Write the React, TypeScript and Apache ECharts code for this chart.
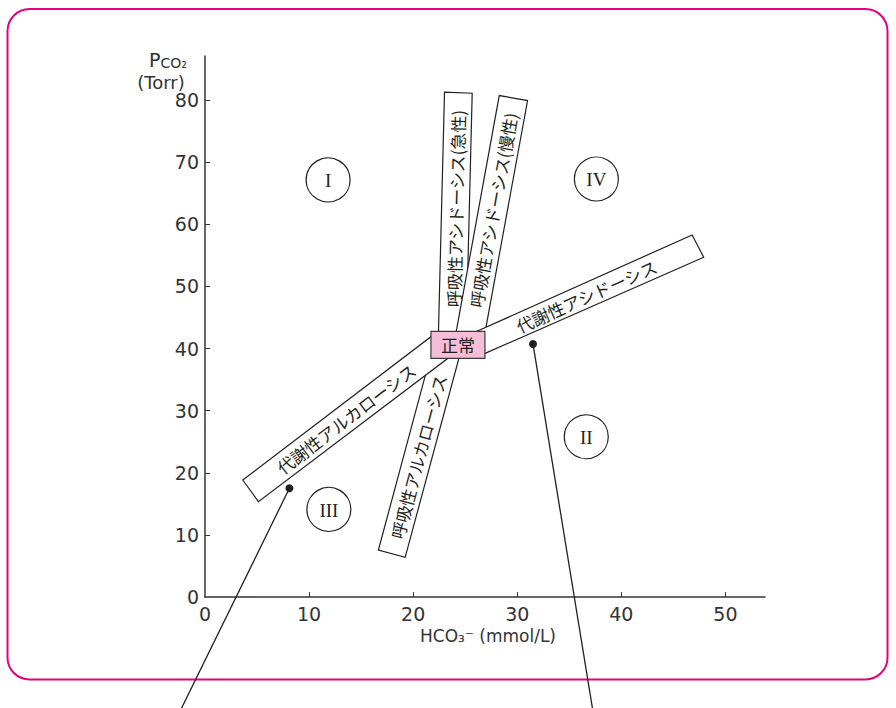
import React, { useEffect, useRef } from "react";
import * as echarts from "echarts";

// ---- axes ----
const xTickValues = [0, 10, 20, 30, 40, 50];
const yTickValues = [0, 10, 20, 30, 40, 50, 60, 70, 80];
const xMax = 53.8;
const yMax = 87.1;
const xAxisTitle = "HCO₃⁻ (mmol/L)";
const yAxisTitleUnit = "(Torr)";

// ---- bands (data coordinates: HCO3-, PCO2) ----
const bandLabels = [
  "呼吸性アルカローシス",
  "代謝性アルカローシス",
  "呼吸性アシドーシス(急性)",
  "呼吸性アシドーシス(慢性)",
  "代謝性アシドーシス",
];
// start edge corners (edge 1, edge 2)
const bandStart = [
  [[16.66, 7.57], [19.23, 6.39]],
  [[3.63, 18.84], [5.13, 15.35]],
  [[22.39, 40.1], [25.06, 40.1]],
  [[23.85, 40.1], [26.63, 40.1]],
  [[25.1, 42.01], [26.25, 38.74]],
];
// end edge corners (edge 1, edge 2)
const bandEnd = [
  [[21.62, 38.49], [24.74, 40.58]],
  [[22.12, 42.43], [23.75, 38.95]],
  [[23.01, 81.27], [25.67, 81.11]],
  [[28.27, 80.73], [30.99, 79.92]],
  [[46.8, 58.29], [47.91, 54.7]],
];
const bandLabelAt = [
  [20.48, 22.59],
  [13.54, 28.74],
  [24.07, 62.56],
  [27.67, 62.32],
  [36.63, 48.47],
];

// ---- normal point ----
const normalLabel = "正常";
const normalPoint = [24.3, 40.6];

// ---- regions ----
const regionLabels = ["I", "II", "III", "IV"];
const regionCenters = [
  [11.83, 67.15],
  [36.63, 25.8],
  [11.9, 14.1],
  [37.6, 67.3],
];

// ---- leader lines ----
const leaderFrom = [
  [8.11, 17.5],
  [31.51, 40.74],
];
const leaderTo = [
  [-2.43, -18.5],
  [37.28, -18.5],
];

const INK = "#231f20";
const JP = "'Noto Sans CJK JP', sans-serif";
const SANS = "'DejaVu Sans', sans-serif";

export default function App() {
  const ref = useRef<HTMLDivElement>(null);

  useEffect(() => {
    if (!ref.current) return;
    const chart = echarts.init(ref.current, null, { renderer: "svg" });

    const mid = (p: number[], q: number[]) => [(p[0] + q[0]) / 2, (p[1] + q[1]) / 2];

    const option: any = {
      animation: false,
      backgroundColor: "#fff",
      grid: { left: 205, right: 896 - 765, top: 56, bottom: 708 - 597, containLabel: false },
      xAxis: {
        type: "value",
        min: 0,
        max: xMax,
        axisLine: { show: true, lineStyle: { color: "#333", width: 1.5 } },
        axisTick: { show: true, inside: true, length: 5, lineStyle: { color: "#333", width: 1 }, customValues: xTickValues.filter((v) => v > 0) },
        axisLabel: { customValues: xTickValues, fontSize: 19, color: "#333", fontFamily: SANS, margin: 7 },
        splitLine: { show: false },
      },
      yAxis: {
        type: "value",
        min: 0,
        max: yMax,
        axisLine: { show: true, lineStyle: { color: "#333", width: 1.5 } },
        axisTick: { show: true, inside: true, length: 5, lineStyle: { color: "#333", width: 1 }, customValues: yTickValues.filter((v) => v > 0) },
        axisLabel: { customValues: yTickValues, fontSize: 19, color: "#333", fontFamily: SANS, margin: 6 },
        splitLine: { show: false },
      },
      graphic: [
        {
          type: "rect",
          shape: { x: 7.5, y: 9, width: 880, height: 670.5, r: 22 },
          style: { fill: "none", stroke: "#e4007f", lineWidth: 2 },
          z: 0,
          silent: true,
        },
        {
          type: "text",
          x: 168,
          y: 59,
          style: {
            text: "{p|P}{c|CO}{s|₂}",
            align: "center",
            verticalAlign: "middle",
            fill: "#333",
            rich: {
              p: { fontSize: 19, fontFamily: SANS, fill: "#333", lineHeight: 21, verticalAlign: "bottom" },
              c: { fontSize: 14, fontFamily: SANS, fill: "#333", lineHeight: 16, verticalAlign: "bottom" },
              s: { fontSize: 14, fontFamily: SANS, fill: "#333", lineHeight: 16, verticalAlign: "bottom" },
            },
          },
        },
        {
          type: "text",
          x: 161,
          y: 82,
          style: { text: yAxisTitleUnit, fontSize: 18, fontFamily: SANS, fill: "#333", align: "center", verticalAlign: "middle" },
        },
        {
          type: "text",
          x: 556,
          y: 636,
          style: { text: xAxisTitle, fontSize: 17, fontFamily: SANS, fill: "#333", align: "right", verticalAlign: "middle" },
        },
      ],
      series: [
        {
          type: "custom",
          coordinateSystem: "cartesian2d",
          data: bandLabelAt,
          z: 3,
          clip: false,
          renderItem: (params: any, api: any) => {
            const i = params.dataIndex;
            const [a1, a2] = bandStart[i];
            const [b1, b2] = bandEnd[i];
            const pts = [a1, b1, b2, a2].map((p) => api.coord(p));
            const ma = mid(api.coord(a1), api.coord(a2));
            const mb = mid(api.coord(b1), api.coord(b2));
            const rot = Math.atan2(-(mb[1] - ma[1]), mb[0] - ma[0]);
            const c = api.coord(bandLabelAt[i]);
            return {
              type: "group",
              children: [
                {
                  type: "polygon",
                  shape: { points: pts },
                  style: { fill: "#fff", stroke: INK, lineWidth: 1.2 },
                },
                {
                  type: "text",
                  x: c[0],
                  y: c[1],
                  rotation: rot,
                  style: {
                    text: bandLabels[i],
                    x: 0,
                    y: 0,
                    align: "center",
                    verticalAlign: "middle",
                    fontSize: 17,
                    fontFamily: JP,
                    fill: INK,
                  },
                },
              ],
            };
          },
        },
        {
          type: "custom",
          coordinateSystem: "cartesian2d",
          data: [normalPoint],
          z: 5,
          clip: false,
          renderItem: (params: any, api: any) => {
            const c = api.coord(normalPoint);
            return {
              type: "group",
              children: [
                {
                  type: "rect",
                  shape: { x: c[0] - 27, y: c[1] - 13.5, width: 54, height: 27 },
                  style: { fill: "#f6bdd8", stroke: "#3a3a3a", lineWidth: 1.2 },
                },
                {
                  type: "text",
                  x: c[0],
                  y: c[1],
                  style: { text: normalLabel, align: "center", verticalAlign: "middle", fontSize: 17, fontFamily: JP, fill: INK },
                },
              ],
            };
          },
        },
        {
          type: "custom",
          coordinateSystem: "cartesian2d",
          data: regionCenters,
          z: 4,
          clip: false,
          renderItem: (params: any, api: any) => {
            const i = params.dataIndex;
            const c = api.coord(regionCenters[i]);
            return {
              type: "group",
              children: [
                {
                  type: "circle",
                  shape: { cx: c[0], cy: c[1], r: 22 },
                  style: { fill: "#fff", stroke: INK, lineWidth: 1.2 },
                },
                {
                  type: "text",
                  x: c[0],
                  y: c[1] + 1,
                  style: {
                    text: regionLabels[i],
                    align: "center",
                    verticalAlign: "middle",
                    fontSize: 19,
                    fontFamily: "'Liberation Serif', 'DejaVu Serif', serif",
                    fill: INK,
                  },
                },
              ],
            };
          },
        },
        {
          type: "custom",
          coordinateSystem: "cartesian2d",
          data: leaderFrom,
          z: 6,
          clip: false,
          renderItem: (params: any, api: any) => {
            const i = params.dataIndex;
            const p = api.coord(leaderFrom[i]);
            const q = api.coord(leaderTo[i]);
            return {
              type: "group",
              children: [
                {
                  type: "line",
                  shape: { x1: p[0], y1: p[1], x2: q[0], y2: q[1] },
                  style: { stroke: INK, lineWidth: 1.3 },
                },
                {
                  type: "circle",
                  shape: { cx: p[0], cy: p[1], r: 4 },
                  style: { fill: INK },
                },
              ],
            };
          },
        },
      ],
    };

    chart.setOption(option);
    return () => chart.dispose();
  }, []);

  return (
    <div
      ref={ref}
      style={{ position: "fixed", left: 0, top: 0, width: 896, height: 708, background: "#fff" }}
    />
  );
}
